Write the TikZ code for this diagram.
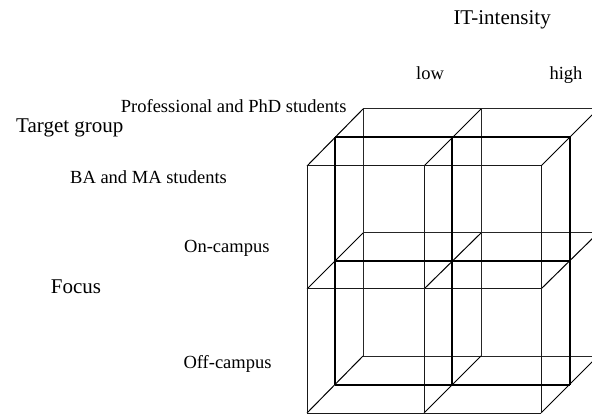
\documentclass[tikz,border=0pt]{standalone}
\usepackage{fontspec}
\setmainfont{Liberation Serif}
\begin{document}
\begin{tikzpicture}[x=1pt,y=-1pt,
  small/.style={anchor=base west,inner sep=0pt,font=\fontsize{18.5}{20}\selectfont},
  big/.style={anchor=base west,inner sep=0pt,font=\fontsize{21}{23}\selectfont},
  frontline/.style={line width=1pt,draw=black!90},
  midline/.style={line width=2pt,draw=black},
  backline/.style={line width=1pt,draw=black!85},
  depthline/.style={line width=1pt,draw=black}]
\useasboundingbox (0,0) rectangle (592,414);
\clip (0,0) rectangle (592,414);

% lattice points: column i, row j, depth layer k (snapped to whole points)
\foreach \i in {0,1,2}{
  \foreach \j in {0,1,2}{
    \foreach \k in {0,1,2}{
      \coordinate (p\i\j\k) at ({round(306.7+117.4*\i+28.3*\k)},{round(165.7+123.6*\j-28.3*\k)});
    }}}

% back layer
\foreach \j in {0,1,2}{\draw[backline] (p0\j2) -- (p2\j2);}
\foreach \i in {0,1,2}{\draw[backline] (p\i02) -- (p\i22);}
% depth edges
\foreach \i in {0,1,2}{
  \foreach \j in {0,1,2}{\draw[depthline] (p\i\j0) -- (p\i\j2);}}
% front layer
\foreach \j in {0,1,2}{\draw[frontline] (p0\j0) -- (p2\j0);}
\foreach \i in {0,1,2}{\draw[frontline] (p\i00) -- (p\i20);}
% middle layer
\foreach \j in {0,1,2}{\draw[midline] (p0\j1) -- (p2\j1);}
\foreach \i in {0,1,2}{\draw[midline] (p\i01) -- (p\i21);}

% labels
\node[big]   (itint) at (453.3,25)  {IT-intensity};
\node[small] (low)   at (416,80)    {low};
\node[small] (high)  at (549.3,80)  {high};
\node[small] (prof)  at (120.7,112.7) {Professional and PhD students};
\node[big]   (tgt)   at (16,132.7)  {Target group};
\node[small] (bama)  at (70,184)    {BA and MA students};
\node[small] (onc)   at (184,252.7) {On-campus};
\node[big]   (focus) at (50.7,293.3) {Focus};
\node[small] (offc)  at (183.3,368.3) {Off-campus};
\end{tikzpicture}
\end{document}
